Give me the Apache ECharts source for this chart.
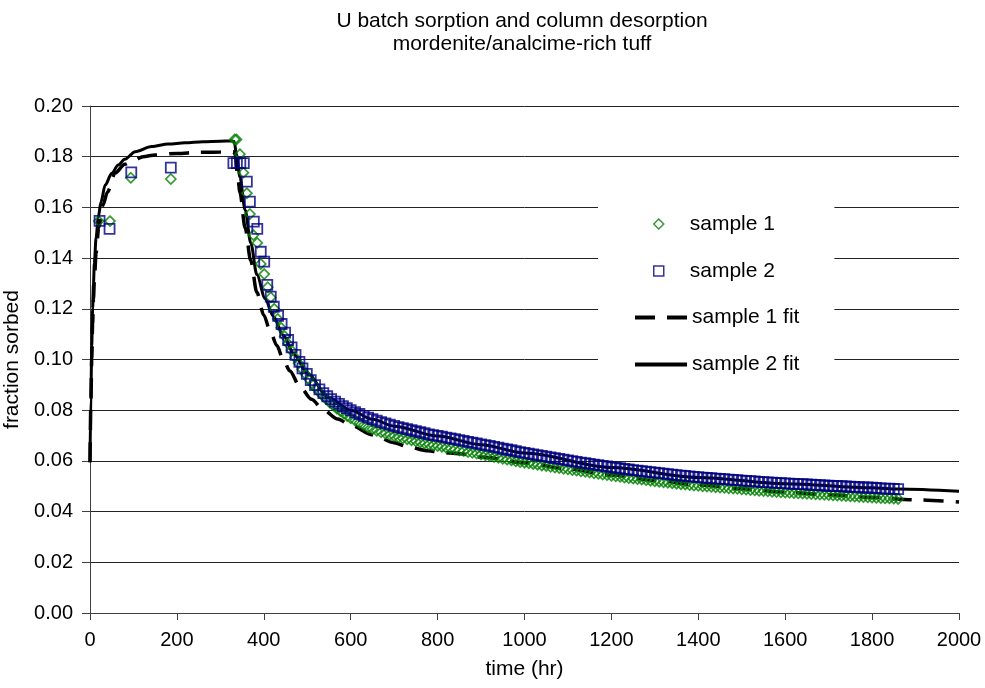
<!DOCTYPE html>
<html>
<head>
<meta charset="utf-8">
<script src="https://cdn.jsdelivr.net/npm/echarts@6/dist/echarts.min.js"></script>
<style>
html,body{margin:0;padding:0;background:#fff;}
#chart{width:985px;height:688px;}
</style>
</head>
<body>
<div id="chart"></div>
<script>
// ---------- data ----------
const titleLines = ['U batch sorption and column desorption', 'mordenite/analcime-rich tuff'];
const xTickLabels = ['0','200','400','600','800','1000','1200','1400','1600','1800','2000'];
const seriesNames = ['sample 1', 'sample 2', 'sample 1 fit', 'sample 2 fit'];

// sample 1 (green diamonds): batch + early column points
const s1EarlyTime = [20,46,94,186,333,337,345,353,361,368,376,385,393,401,409,416,424,432,440,448,456,464,472,480,488,496,504,512,520,528,536,544,552,560,568,576,584,592];
const s1EarlyValue = [0.1546,0.1546,0.1717,0.1712,0.1868,0.1868,0.1810,0.1737,0.1656,0.1574,0.1491,0.1460,0.1377,0.1337,0.1285,0.1245,0.1200,0.1160,0.1125,0.1092,0.1062,0.1035,0.1008,0.0985,0.0962,0.0942,0.0922,0.0904,0.0887,0.0871,0.0857,0.0843,0.0830,0.0818,0.0807,0.0797,0.0787,0.0777];

// sample 2 (blue squares): batch + early column points
const s2EarlyTime = [22,45,95,186,330,338,346,354,361,368,377,385,393,401,408,416,423,433,441,449,456,464,473,482,489,499,508,518,528,537,546,555,564,573,582,591];
const s2EarlyValue = [0.1547,0.1515,0.1738,0.1757,0.1775,0.1775,0.1775,0.1775,0.1702,0.1623,0.1544,0.1515,0.1425,0.1386,0.1294,0.1248,0.1208,0.1172,0.1140,0.1106,0.1077,0.1048,0.1018,0.0991,0.0965,0.0943,0.0919,0.0899,0.0882,0.0867,0.0855,0.0844,0.0834,0.0825,0.0816,0.0808];

// late column sampling times (hr)
const tailTime = [600,610,620,630,640,650,660,670,680,690,700,710,720,730,740,750,760,770,780,790,800,810,820,830,840,850,860,870,880,890,900,910,920,930,940,950,960,970,980,990,1000,1010,1020,1030,1040,1050,1060,1070,1080,1090,1100,1110,1120,1130,1140,1150,1160,1170,1180,1190,1200,1210,1220,1230,1240,1250,1260,1270,1280,1290,1300,1310,1320,1330,1340,1350,1360,1370,1380,1390,1400,1410,1420,1430,1440,1450,1460,1470,1480,1490,1500,1510,1520,1530,1540,1550,1560,1570,1580,1590,1600,1610,1620,1630,1640,1650,1660,1670,1680,1690,1700,1710,1720,1730,1740,1750,1760,1770,1780,1790,1800,1810,1820,1830,1840,1850,1860];

const s1TailValue = [0.0768,0.0759,0.0750,0.0741,0.0732,0.0725,0.0719,0.0713,0.0708,0.0703,0.0698,0.0693,0.0689,0.0685,0.0681,0.0677,0.0673,0.0669,0.0665,0.0662,0.0659,0.0656,0.0652,0.0649,0.0646,0.0642,0.0639,0.0635,0.0632,0.0629,0.0625,0.0622,0.0619,0.0615,0.0612,0.0608,0.0605,0.0602,0.0598,0.0595,0.0593,0.0591,0.0588,0.0585,0.0582,0.0580,0.0577,0.0574,0.0572,0.0569,0.0567,0.0564,0.0562,0.0559,0.0557,0.0554,0.0551,0.0549,0.0546,0.0544,0.0541,0.0539,0.0537,0.0534,0.0532,0.0530,0.0528,0.0526,0.0524,0.0522,0.0520,0.0518,0.0516,0.0514,0.0512,0.0510,0.0508,0.0507,0.0505,0.0503,0.0502,0.0500,0.0499,0.0498,0.0496,0.0495,0.0494,0.0492,0.0491,0.0490,0.0488,0.0487,0.0485,0.0484,0.0482,0.0481,0.0480,0.0478,0.0477,0.0476,0.0475,0.0474,0.0473,0.0472,0.0471,0.0470,0.0469,0.0468,0.0467,0.0466,0.0465,0.0464,0.0463,0.0462,0.0461,0.0460,0.0459,0.0458,0.0457,0.0456,0.0455,0.0454,0.0453,0.0452,0.0452,0.0451,0.0450];

const s2TailValue = [0.0800,0.0792,0.0785,0.0778,0.0771,0.0765,0.0759,0.0753,0.0748,0.0743,0.0738,0.0733,0.0729,0.0725,0.0721,0.0717,0.0713,0.0709,0.0705,0.0702,0.0699,0.0696,0.0692,0.0689,0.0686,0.0682,0.0679,0.0675,0.0672,0.0669,0.0665,0.0662,0.0659,0.0655,0.0652,0.0648,0.0645,0.0642,0.0638,0.0635,0.0632,0.0629,0.0626,0.0623,0.0620,0.0617,0.0614,0.0611,0.0608,0.0605,0.0602,0.0599,0.0596,0.0593,0.0591,0.0588,0.0585,0.0583,0.0580,0.0578,0.0575,0.0573,0.0571,0.0568,0.0566,0.0564,0.0562,0.0560,0.0558,0.0556,0.0554,0.0552,0.0550,0.0548,0.0546,0.0544,0.0542,0.0541,0.0539,0.0537,0.0536,0.0534,0.0533,0.0532,0.0530,0.0529,0.0528,0.0526,0.0525,0.0524,0.0522,0.0521,0.0520,0.0519,0.0517,0.0516,0.0515,0.0514,0.0513,0.0512,0.0511,0.0510,0.0509,0.0508,0.0508,0.0507,0.0506,0.0505,0.0504,0.0503,0.0502,0.0501,0.0501,0.0500,0.0499,0.0498,0.0497,0.0496,0.0495,0.0495,0.0494,0.0493,0.0492,0.0491,0.0491,0.0490,0.0489];

// fitted curves
const fit1Time = [0,2,4,6,8,10,14,20,30,40,58,80,100,122,150,200,250,300,318,330,334,340,345,357,370,384,400,414,430,445,460,483,510,537,570,600,650,700,730,778,805,852,900,1000,1100,1200,1300,1400,1500,1600,1700,1800,1900,2000];
const fit1Value = [0.0595,0.083,0.100,0.114,0.124,0.131,0.142,0.152,0.161,0.166,0.1736,0.177,0.1785,0.180,0.1807,0.1813,0.1817,0.1819,0.182,0.182,0.181,0.172,0.166,0.152,0.139,0.1265,0.1175,0.1116,0.1055,0.0998,0.0955,0.0893,0.0843,0.0801,0.0765,0.0741,0.0703,0.0672,0.0656,0.0640,0.0634,0.0628,0.0615,0.0593,0.0568,0.0544,0.0523,0.0505,0.0490,0.0477,0.0466,0.0456,0.0446,0.0438];

const fit2Time = [0,2,4,6,8,10,14,19,25,35,50,65,80,104,142,180,219,260,300,326,332,337,345,357,370,384,403,422,445,470,500,550,600,650,700,800,900,1000,1200,1400,1600,1800,1860,2000];
const fit2Value = [0.0595,0.085,0.105,0.120,0.130,0.138,0.148,0.156,0.162,0.1688,0.1735,0.1767,0.179,0.182,0.184,0.185,0.1855,0.1859,0.1861,0.1862,0.1860,0.181,0.172,0.159,0.146,0.1335,0.1240,0.1170,0.1095,0.1020,0.0945,0.0848,0.0800,0.0764,0.0737,0.0698,0.0664,0.0631,0.0574,0.0535,0.0510,0.0494,0.0489,0.0480];

// ---------- build ----------
const pairs = (ts, vs) => ts.map((t, i) => [t, vs[i]]);
const s1Data = pairs(s1EarlyTime, s1EarlyValue).concat(pairs(tailTime, s1TailValue));
const s2Data = pairs(s2EarlyTime, s2EarlyValue).concat(pairs(tailTime, s2TailValue));
const fit1Data = pairs(fit1Time, fit1Value);
const fit2Data = pairs(fit2Time, fit2Value);

const FONT = "'Liberation Sans', Arial, sans-serif";
const green = '#008000';
const navy = '#000080';

const chart = echarts.init(document.getElementById('chart'), null, {renderer: 'canvas'});
chart.setOption({
  animation: false,
  backgroundColor: '#fff',
  title: {
    text: titleLines.join('\n'),
    left: 522,
    top: 10,
    textAlign: 'center',
    padding: 0,
    textStyle: {fontFamily: FONT, fontSize: 21, fontWeight: 'normal', color: '#000', lineHeight: 23}
  },
  grid: {left: 90, right: 26, top: 106, bottom: 75, containLabel: false, outerBoundsMode: 'none'},
  xAxis: {
    type: 'value', min: 0, max: 2000, interval: 200,
    name: 'time (hr)', nameLocation: 'middle', nameGap: 46,
    nameTextStyle: {fontFamily: FONT, fontSize: 21, color: '#000'},
    axisLine: {show: true, onZero: false, lineStyle: {color: '#404040', width: 1}},
    axisTick: {show: true, inside: false, length: 7, lineStyle: {color: '#404040'}},
    axisLabel: {fontFamily: FONT, fontSize: 20, color: '#000', margin: 17,
      formatter: (v) => xTickLabels[Math.round(v / 200)]},
    splitLine: {show: false}
  },
  yAxis: {
    type: 'value', min: 0, max: 0.2, interval: 0.02,
    name: 'fraction sorbed', nameLocation: 'middle', nameGap: 55,
    nameTextStyle: {fontFamily: FONT, fontSize: 21, color: '#000'},
    axisLine: {show: true, onZero: false, lineStyle: {color: '#404040', width: 1}},
    axisTick: {show: true, inside: false, length: 8, lineStyle: {color: '#404040'}},
    axisLabel: {fontFamily: FONT, fontSize: 20, color: '#000', margin: 17,
      formatter: (v) => v.toFixed(2)},
    splitLine: {show: true, lineStyle: {color: '#222', width: 1}}
  },
  legend: [
    {
      // line legend + white box
      data: [seriesNames[2], seriesNames[3]],
      orient: 'vertical',
      left: 598, top: 191,
      padding: [116, 35, 20, 35],
      backgroundColor: '#fff',
      itemWidth: 52, itemHeight: 14, itemGap: 26,
      textStyle: {fontFamily: FONT, fontSize: 21, color: '#000', lineHeight: 21},
      lineStyle: {width: 4},
      itemStyle: {color: 'rgba(0,0,0,0)', borderWidth: 0, opacity: 0},
      z: 4
    },
    {
      data: [
        {name: seriesNames[0], icon: 'diamond', itemStyle: {color: 'rgba(0,0,0,0)', borderColor: green, borderWidth: 1.5}},
        {name: seriesNames[1], icon: 'rect', itemStyle: {color: 'rgba(0,0,0,0)', borderColor: navy, borderWidth: 1.5}}
      ],
      orient: 'vertical',
      left: 653, top: 213.5,
      padding: 0,
      itemWidth: 10, itemHeight: 10, itemGap: 26,
      textStyle: {fontFamily: FONT, fontSize: 21, color: '#000', lineHeight: 21, padding: [0, 0, 0, 21]},
      z: 5
    }
  ],
  series: [
    {
      name: seriesNames[2], type: 'line', data: fit1Data,
      symbol: 'none', smooth: 0.3, smoothMonotone: 'x',
      lineStyle: {color: '#000', width: 3.5, type: [20, 12]},
      itemStyle: {color: '#000'},
      z: 2
    },
    {
      name: seriesNames[3], type: 'line', data: fit2Data,
      symbol: 'none', smooth: 0.3, smoothMonotone: 'x',
      lineStyle: {color: '#000', width: 3, type: 'solid'},
      itemStyle: {color: '#000'},
      z: 2
    },
    {
      name: seriesNames[0], type: 'scatter', data: s1Data,
      symbol: 'diamond', symbolSize: 10,
      itemStyle: {color: 'rgba(0,0,0,0)', borderColor: green, borderWidth: 1.7},
      z: 3
    },
    {
      name: seriesNames[1], type: 'scatter', data: s2Data,
      symbol: 'rect', symbolSize: 10,
      itemStyle: {color: 'rgba(0,0,0,0)', borderColor: navy, borderWidth: 1.8},
      z: 3
    }
  ]
});
</script>
</body>
</html>
